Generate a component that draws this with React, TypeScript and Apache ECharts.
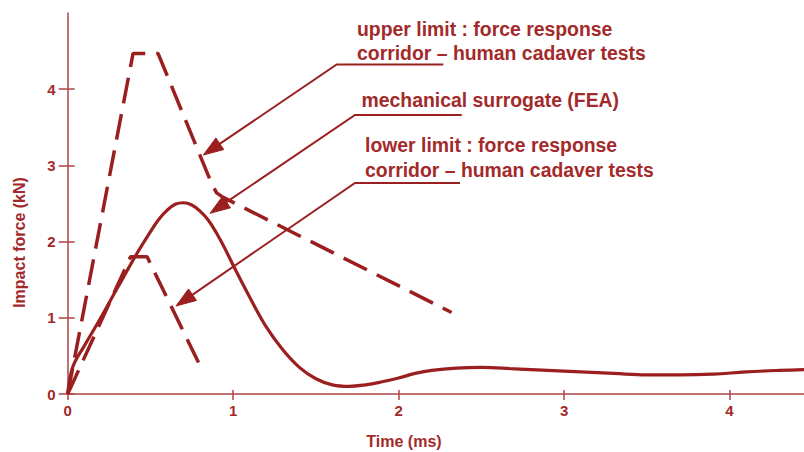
import React, { useEffect, useRef } from "react";
import * as echarts from "echarts";

// ---- data (time in ms, force in kN) ----
const upperLimit: number[][] = [
  [0, 0], [0.395, 4.47], [0.546, 4.47], [0.87, 2.76], [0.9, 2.64], [0.94, 2.58], [2.32, 1.07],
];
const lowerLimit: number[][] = [
  [0, 0], [0.38, 1.8], [0.48, 1.8], [0.8, 0.37],
];
const surrogate: number[][] = [
  [0, 0], [0.03, 0.35], [0.1, 0.63], [0.2, 1.0], [0.3, 1.39], [0.42, 1.85], [0.5, 2.13],
  [0.55, 2.29], [0.6, 2.41], [0.65, 2.49], [0.7, 2.51], [0.75, 2.48], [0.8, 2.4],
  [0.85, 2.28], [0.9, 2.11], [0.95, 1.91], [1.0, 1.69], [1.1, 1.27], [1.2, 0.88],
  [1.3, 0.58], [1.4, 0.35], [1.5, 0.2], [1.6, 0.12], [1.7, 0.1], [1.8, 0.12],
  [1.9, 0.16], [2.0, 0.21], [2.1, 0.27], [2.2, 0.31], [2.35, 0.34], [2.5, 0.35],
  [2.7, 0.33], [2.9, 0.31], [3.1, 0.29], [3.3, 0.27], [3.5, 0.25], [3.7, 0.25],
  [3.9, 0.26], [4.1, 0.29], [4.3, 0.31], [4.45, 0.32],
];
const xTicks = [0, 1, 2, 3, 4];
const yTicks = [0, 1, 2, 3, 4];
const xMax = 4.45;
const yMax = 5;

const annotations = [
  { lines: ["upper limit : force response", "corridor \u2013 human cadaver tests"] },
  { lines: ["mechanical surrogate (FEA)"] },
  { lines: ["lower limit : force response", "corridor \u2013 human cadaver tests"] },
];

const LINE = "#9b1f1f";
const TEXT = "#a32a2b";
const AXIS = "#b04444";
const FONT = "'Liberation Sans', Arial, sans-serif";

function arrowHead(tip: number[], from: number[], len = 20, half = 7) {
  const dx = tip[0] - from[0];
  const dy = tip[1] - from[1];
  const d = Math.hypot(dx, dy);
  const ux = dx / d, uy = dy / d;
  const bx = tip[0] - ux * len, by = tip[1] - uy * len;
  const nx = -uy, ny = ux;
  return [tip, [bx + nx * half, by + ny * half], [bx - nx * half, by - ny * half]];
}

export default function App() {
  const ref = useRef<HTMLDivElement>(null);
  useEffect(() => {
    if (!ref.current) return;
    const chart = echarts.init(ref.current, null, { renderer: "svg" });

    // annotation layout (pixels)
    const arrowGeo = [
      { textX: 357, baselines: [36, 60], ulY: 64.5, ulX0: 336.7, ulX1: 443.3, tip: [203.3, 155] },
      { textX: 361.5, baselines: [107], ulY: 115, ulX0: 355, ulX1: 461.7, tip: [210, 213.3] },
      { textX: 365, baselines: [151.7, 176.7], ulY: 183, ulX0: 355, ulX1: 460, tip: [176, 306] },
    ];
    const graphic: any[] = [];
    annotations.forEach((a, i) => {
      const g = arrowGeo[i];
      a.lines.forEach((t, j) => {
        graphic.push({
          type: "text",
          x: g.textX,
          y: g.baselines[j] - 6.9,
          style: {
            text: t,
            fill: TEXT,
            font: `bold 19.4px ${FONT}`,
            textAlign: "left",
            textVerticalAlign: "middle",
          },
        });
      });
      const start = [g.ulX0, g.ulY];
      const head = arrowHead(g.tip, start);
      const base = [(head[1][0] + head[2][0]) / 2, (head[1][1] + head[2][1]) / 2];
      graphic.push({
        type: "polyline",
        shape: { points: [[g.ulX1, g.ulY], start, [base[0] + 2 * (g.tip[0] - base[0]) / 20, base[1] + 2 * (g.tip[1] - base[1]) / 20]] },
        style: { stroke: LINE, lineWidth: 2, fill: "none" },
      });
      graphic.push({
        type: "polygon",
        shape: { points: head },
        style: { fill: LINE, stroke: LINE, lineWidth: 1 },
      });
    });
    graphic.push({
      type: "text",
      x: 404,
      y: 441,
      style: { text: "Time (ms)", fill: TEXT, font: `bold 16px ${FONT}`, textAlign: "center", textVerticalAlign: "middle" },
    });
    graphic.push({
      type: "text",
      x: 19,
      y: 242.5,
      rotation: Math.PI / 2,
      style: { text: "Impact force (kN)", fill: TEXT, font: `bold 16px ${FONT}`, textAlign: "center", textVerticalAlign: "middle" },
    });

    const labelStyle = { color: TEXT, fontFamily: FONT, fontWeight: "bold" as const, fontSize: 15 };

    chart.setOption({
      animation: false,
      backgroundColor: "#ffffff",
      grid: { left: 67.7, right: 0, top: 13, bottom: 58, containLabel: false },
      xAxis: [
        {
          type: "value",
          min: 0,
          max: xMax,
          position: "bottom",
          axisLine: { show: true, lineStyle: { color: AXIS, width: 1.5 } },
          axisTick: { show: true, length: 6, customValues: xTicks, lineStyle: { color: AXIS, width: 1.5 } },
          axisLabel: { ...labelStyle, margin: 9, customValues: xTicks },
          splitLine: { show: false },
        },
        {
          type: "value",
          min: 0,
          max: xMax,
          position: "bottom",
          offset: 0,
          axisLine: { show: false },
          axisTick: { show: true, inside: true, length: 4, customValues: xTicks, lineStyle: { color: AXIS, width: 1.5 } },
          axisLabel: { show: false },
          splitLine: { show: false },
        },
      ],
      yAxis: [
        {
          type: "value",
          min: 0,
          max: yMax,
          position: "left",
          axisLine: { show: true, lineStyle: { color: AXIS, width: 1.5 } },
          axisTick: { show: true, length: 9, customValues: yTicks, lineStyle: { color: AXIS, width: 1.5 } },
          axisLabel: { ...labelStyle, margin: 12, customValues: yTicks },
          splitLine: { show: false },
        },
        {
          type: "value",
          min: 0,
          max: yMax,
          position: "left",
          offset: 0,
          axisLine: { show: false },
          axisTick: { show: true, inside: true, length: 7, customValues: yTicks, lineStyle: { color: AXIS, width: 1.5 } },
          axisLabel: { show: false },
          splitLine: { show: false },
        },
      ],
      series: [
        {
          type: "line",
          name: "upper limit",
          data: upperLimit,
          showSymbol: false,
          lineStyle: { color: LINE, width: 3.5, type: [26, 11], cap: "butt" },
          z: 3,
        },
        {
          type: "line",
          name: "lower limit",
          data: lowerLimit,
          showSymbol: false,
          lineStyle: { color: LINE, width: 3.5, type: [26, 11], cap: "butt" },
          z: 3,
        },
        {
          type: "line",
          name: "mechanical surrogate (FEA)",
          data: surrogate,
          showSymbol: false,
          smooth: 0.4,
          lineStyle: { color: LINE, width: 3.2 },
          z: 4,
        },
      ],
      graphic,
    });
    return () => chart.dispose();
  }, []);
  return (
    <div
      ref={ref}
      style={{ position: "absolute", left: 0, top: 0, width: 804, height: 452, background: "#fff" }}
    />
  );
}
